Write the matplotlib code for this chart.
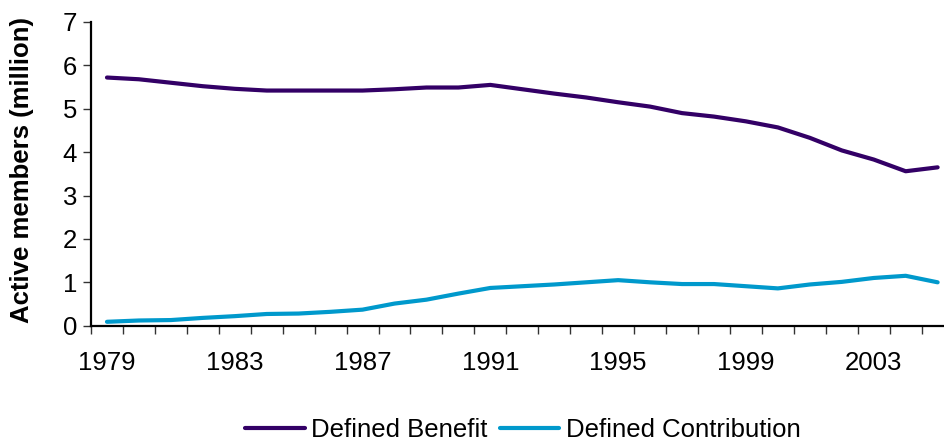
import matplotlib
matplotlib.use("Agg")
import matplotlib.pyplot as plt
import numpy as np

years = list(range(1979, 2006))
defined_benefit = [5.72, 5.68, 5.60, 5.52, 5.46, 5.42, 5.42, 5.42, 5.42, 5.45,
                   5.49, 5.49, 5.55, 5.45, 5.35, 5.26, 5.15, 5.05, 4.90, 4.82,
                   4.71, 4.57, 4.33, 4.04, 3.83, 3.56, 3.65]
defined_contribution = [0.09, 0.12, 0.13, 0.18, 0.22, 0.27, 0.28, 0.32, 0.37, 0.51,
                        0.60, 0.74, 0.87, 0.91, 0.95, 1.00, 1.05, 1.00, 0.96, 0.96,
                        0.91, 0.86, 0.95, 1.01, 1.10, 1.15, 1.00]
label_years = [1979, 1983, 1987, 1991, 1995, 1999, 2003]
y_ticks = [0, 1, 2, 3, 4, 5, 6, 7]

plt.rcParams["font.family"] = ["Liberation Sans", "DejaVu Sans"]

W, H = 945, 443
fig = plt.figure(figsize=(W / 100, H / 100), dpi=100)
left_px, right_px, top_px, bottom_px = 91, 953.6, 22, 325.7
ax = fig.add_axes([left_px / W, 1 - bottom_px / H,
                   (right_px - left_px) / W, (bottom_px - top_px) / H])

ax.plot(years, defined_benefit, color="#330066", lw=3.0,
        label="Defined Benefit", solid_joinstyle="round", solid_capstyle="round")
ax.plot(years, defined_contribution, color="#0099CC", lw=3.0,
        label="Defined Contribution", solid_joinstyle="round", solid_capstyle="round")

ax.set_xlim(years[0] - 0.5, years[-1] + 0.5)
ax.set_ylim(0, 7)

# category boundaries carry the tick marks, year labels sit at category centres
boundaries = np.arange(years[0] - 0.5, years[-1] + 1.0, 1.0)
ax.set_xticks(boundaries)
ax.set_xticklabels([])
ax.set_xticks(label_years, [str(y) for y in label_years], minor=True)
ax.tick_params(axis="x", which="major", direction="out", length=6, width=1, color="#333333")
ax.tick_params(axis="x", which="minor", length=0, pad=18, labelsize=18.5)

ax.set_yticks(y_ticks)
ax.tick_params(axis="y", direction="out", length=6, width=1, color="#333333",
               pad=4, labelsize=18.5)

for side in ("top", "right"):
    ax.spines[side].set_visible(False)
for side in ("left", "bottom"):
    ax.spines[side].set_linewidth(1.6)
    ax.spines[side].set_color("black")

ax.set_ylabel("Active members (million)", fontsize=18.5, fontweight="bold")
ax.yaxis.set_label_coords(-57 / (right_px - left_px), 0.5 + 4 / (bottom_px - top_px))

leg = fig.legend(loc="center", bbox_to_anchor=(523 / W, 1 - 430 / H), ncol=2,
                 frameon=False, fontsize=18.5, handlelength=2.3, handletextpad=0.25,
                 columnspacing=0.5, borderaxespad=0, borderpad=0)

fig.savefig("out.png", dpi=100)
